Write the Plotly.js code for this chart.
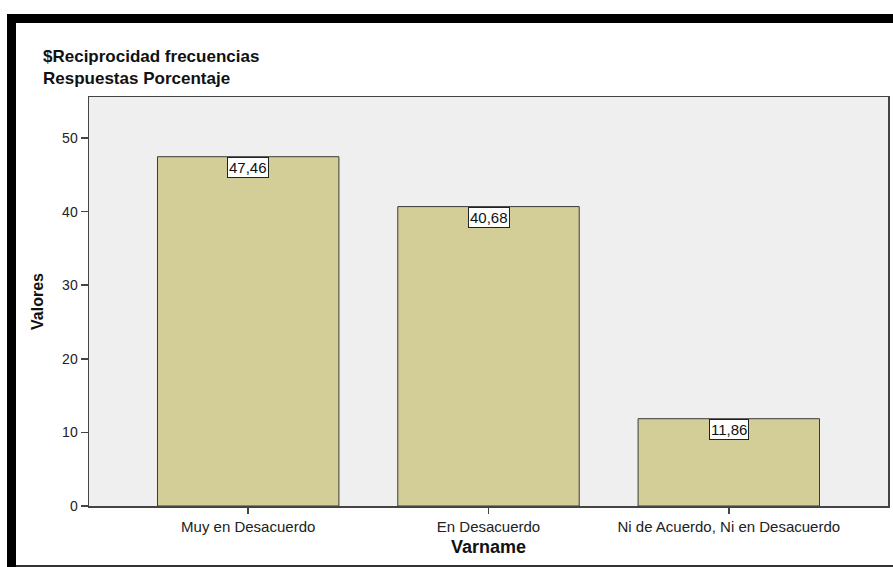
<!DOCTYPE html>
<html>
<head>
<meta charset="utf-8">
<script src="https://cdn.plot.ly/plotly-3.0.1.min.js"></script>
<style>
html,body{margin:0;padding:0;background:#fff;}
#chart{width:893px;height:567px;}
</style>
</head>
<body>
<div id="chart"></div>
<script>
// Data
const categories = ["Muy en Desacuerdo", "En Desacuerdo", "Ni de Acuerdo, Ni en Desacuerdo"];
const values = [47.46, 40.68, 11.86];
const titleLines = ["$Reciprocidad frecuencias", "Respuestas Porcentaje"];
const yTickVals = [0, 10, 20, 30, 40, 50];

// Layout geometry (pixels)
const W = 893, H = 567;
const L = 89, R = 888, T = 97, B = 506;
const pw = R - L, ph = B - T;
const px = x => (x - L) / pw;
const py = y => (B - y) / ph;

const FONT = "Arial, 'Liberation Sans', sans-serif";

const bar = {
  type: "bar",
  x: categories,
  y: values,
  width: 0.755,
  marker: { color: "#d3ce97", line: { color: "#3a3a3a", width: 1 } },
  hoverinfo: "skip"
};

const labelAnns = categories.map((c, i) => ({
  x: c, y: values[i], xref: "x", yref: "y",
  text: values[i].toFixed(2).replace(".", ","),
  showarrow: false, yanchor: "top", xanchor: "center",
  bgcolor: "#ffffff", bordercolor: "#222222", borderwidth: 1, borderpad: 1,
  font: { family: FONT, size: 15, color: "#111" }
}));

const titleAnn = {
  x: px(41), y: py(67), xref: "paper", yref: "paper",
  xanchor: "left", yanchor: "middle", align: "left", showarrow: false,
  text: "<b>" + titleLines.join("<br>") + "</b>",
  font: { family: FONT, size: 17, color: "#111" }
};

const shapes = [
  // top black bar
  { type: "rect", xref: "paper", yref: "paper", x0: px(7), x1: px(893), y0: py(14), y1: py(23), fillcolor: "#000", line: { width: 0 }, layer: "above" },
  // left black bar
  { type: "rect", xref: "paper", yref: "paper", x0: px(7), x1: px(16), y0: py(14), y1: py(567), fillcolor: "#000", line: { width: 0 }, layer: "above" },
  // bottom line
  { type: "rect", xref: "paper", yref: "paper", x0: px(16), x1: px(893), y0: py(565), y1: py(567), fillcolor: "#333", line: { width: 0 }, layer: "above" }
];

const layout = {
  width: W, height: H,
  margin: { l: L, r: W - R, t: T, b: H - B, pad: 0 },
  paper_bgcolor: "#ffffff",
  plot_bgcolor: "#efefef",
  showlegend: false,
  font: { family: FONT, color: "#222" },
  xaxis: {
    type: "category",
    range: [-0.6625, 2.6625],
    showline: true, mirror: true, linecolor: "#444", linewidth: 1.5,
    ticks: "outside", ticklen: 6, tickcolor: "#444", tickwidth: 1.5,
    showgrid: false, zeroline: false,
    tickfont: { family: FONT, size: 15, color: "#222" },
    title: { text: "<b>Varname</b>", font: { family: FONT, size: 18, color: "#111" }, standoff: 7 },
    automargin: false, fixedrange: true
  },
  yaxis: {
    range: [0, (B - T) / 7.36],
    tickvals: yTickVals,
    showline: true, mirror: true, linecolor: "#444", linewidth: 1.5,
    ticks: "outside", ticklen: 7, tickcolor: "#444", tickwidth: 1.5,
    showgrid: false, zeroline: false,
    tickfont: { family: FONT, size: 14, color: "#222" },
    title: { text: "<b>Valores</b>", font: { family: FONT, size: 16, color: "#111" }, standoff: 14 },
    automargin: false, fixedrange: true
  },
  annotations: labelAnns.concat([titleAnn]),
  shapes: shapes,
  bargap: 0
};

Plotly.newPlot("chart", [bar], layout, { displayModeBar: false, staticPlot: true });
</script>
</body>
</html>
